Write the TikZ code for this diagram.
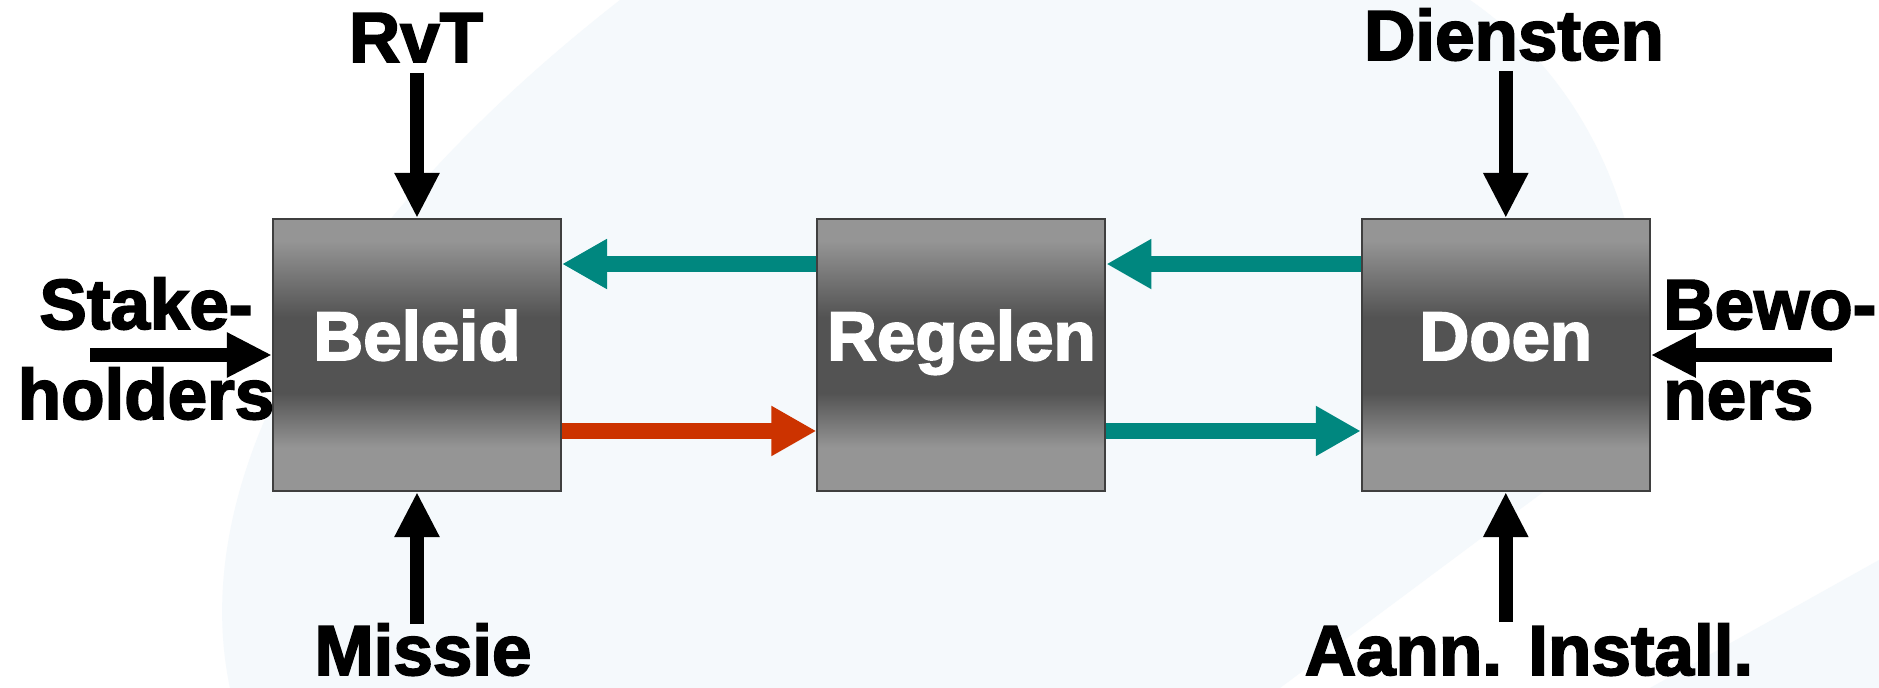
\documentclass[tikz,border=0pt]{standalone}
\usepackage{fontspec}
\usepackage{tikz}
\usetikzlibrary{arrows.meta,positioning,calc}
\newfontfamily\labelfont{Liberation Sans Bold}[FakeBold=2.5]
\definecolor{bgblue}{HTML}{F5F9FC}
\definecolor{boxlight}{HTML}{959595}
\definecolor{boxdark}{HTML}{535353}
\definecolor{boxline}{HTML}{3F3F3F}
\definecolor{flowteal}{HTML}{00877F}
\definecolor{flowred}{HTML}{CC3300}
\pgfdeclareverticalshading{blokshade}{100bp}{color(0bp)=(boxlight); color(33bp)=(boxlight); color(43bp)=(boxdark); color(57bp)=(boxdark); color(71bp)=(boxlight); color(100bp)=(boxlight)}

\begin{document}
\begin{tikzpicture}[x=0.02cm, y=-0.02cm]
\tikzstyle{blok}=[rectangle, draw=boxline, line width=1.2pt, shading=blokshade, minimum width=5.76cm, minimum height=5.44cm, node distance=10.89cm, text=white, inner sep=0pt, font=\labelfont\fontsize{39.3}{47}\selectfont, text height=0.72em, text depth=0.14em]
\tikzstyle{lbl}=[inner sep=0pt, font=\labelfont\fontsize{40.4}{48}\selectfont]
\tikzstyle{feed}=[-{Triangle[length=0.9cm, width=0.84cm]}, line width=0.28cm, black]
\tikzstyle{flow}=[-{Triangle[length=0.9cm, width=0.94cm]}, line width=0.32cm]

  \useasboundingbox (0,0) rectangle (1879,688);

  % background swoosh
  \fill[white] (0,0) rectangle (1879,688);
  \fill[bgblue] (230,688) .. controls (190,500) and (300,250) .. (620,0) -- (1470,0)
    .. controls (1600,90) and (1660,250) .. (1640,420) -- (1280,688) -- cycle;
  \fill[bgblue] (1650,688) -- (1879,560) -- (1879,688) -- cycle;

  \node[blok] (beleid)  at (417,355)        {Beleid};
  \node[blok] (regelen) [right of =beleid]  {Regelen};
  \node[blok] (doen)    [right of =regelen] {Doen};

  \node[lbl, anchor=base] (rvt)      at (416,62)   {RvT};
  \node[lbl, anchor=base] (missie)   at (423,675)  {Missie};
  \node[lbl, anchor=base] (diensten) at (1514,60)  {Diensten};
  \node[lbl, anchor=base] (aann)     at (1529,675) {Aann. Install.};
  \node[lbl, anchor=base] (stake)    at (146,329)  {Stake-};
  \node[lbl, anchor=base] (holders)  at (146,419)  {holders};
  \node[lbl, anchor=base west] (bewo) at (1663,329) {Bewo-};
  \node[lbl, anchor=base west] (ners) at (1663,419) {ners};

  \coordinate[above=2.9cm of beleid.north]  (rvtend);
  \coordinate[below=2.64cm of beleid.south] (missieend);
  \coordinate[left=3.64cm of beleid.west]   (stakeend);
  \coordinate[above=2.94cm of doen.north]   (dienstenend);
  \coordinate[below=2.6cm of doen.south]    (aannend);
  \coordinate[right=3.62cm of doen.east]    (bewoend);

  \path (rvtend)      edge [feed] (beleid.north);
  \path (missieend)   edge [feed] (beleid.south);
  \path (stakeend)    edge [feed] (beleid.west);
  \path (dienstenend) edge [feed] (doen.north);
  \path (aannend)     edge [feed] (doen.south);
  \path (bewoend)     edge [feed] (doen.east);

  \path ([yshift=1.82cm]regelen.west) edge [flow, flowteal] ([yshift=1.82cm]beleid.east);
  \path ([yshift=1.82cm]doen.west)    edge [flow, flowteal] ([yshift=1.82cm]regelen.east);
  \path ([yshift=-1.52cm]beleid.east)  edge [flow, flowred]  ([yshift=-1.52cm]regelen.west);
  \path ([yshift=-1.52cm]regelen.east) edge [flow, flowteal] ([yshift=-1.52cm]doen.west);

\end{tikzpicture}
\end{document}
